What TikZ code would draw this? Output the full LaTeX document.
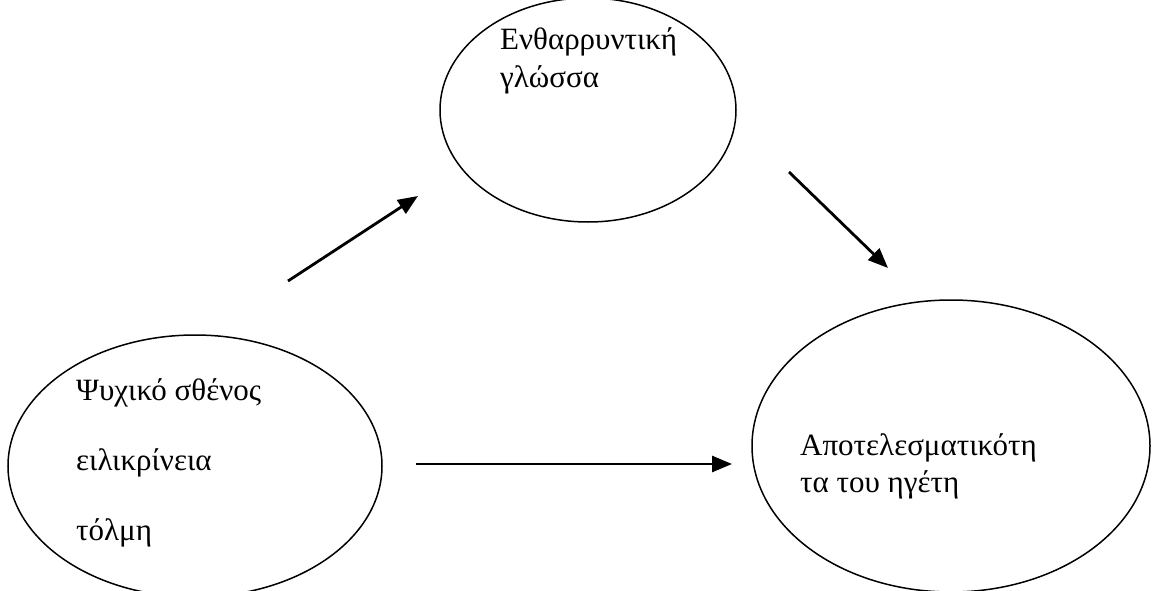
\documentclass[tikz,border=0pt]{standalone}
\usepackage{fontspec}
\setmainfont{Liberation Serif}
\usetikzlibrary{shapes.geometric,arrows.meta}
\tikzset{
  oval/.style={draw=black, line width=1.5pt, ellipse, inner sep=0pt},
  lbl/.style={anchor=base west, inner sep=0pt, font=\fontsize{31}{36}\selectfont},
  arr/.style={line width=2.8pt, -{Triangle[length=20pt,width=16pt]}}
}
\begin{document}
\begin{tikzpicture}[x=1pt,y=-1pt]
\useasboundingbox (0,0) rectangle (1152,591);
\clip (0,0) rectangle (1152,591);
\fill[white] (0,0) rectangle (1152,591);
% ellipses
\node[oval, minimum width=296pt, minimum height=224pt] (top) at (588,110) {};
\node[oval, minimum width=374pt, minimum height=262pt] (left) at (195,466) {};
\node[oval, minimum width=398pt, minimum height=292pt] (right) at (951,446) {};
% texts
\node[lbl] (t1) at (500,50) {Ενθαρρυντική};
\node[lbl] (t2) at (500,88) {γλώσσα};
\node[lbl] (l1) at (76,400) {Ψυχικό σθένος};
\node[lbl] (l2) at (76,470) {ειλικρίνεια};
\node[lbl] (l3) at (76,540) {τόλμη};
\node[lbl] (r1) at (800,455) {Αποτελεσματικότη};
\node[lbl] (r2) at (800,492) {τα του ηγέτη};
% arrow endpoints
\coordinate (a1s) at (288,281);
\coordinate (a1e) at (418,196);
\coordinate (a2s) at (789,172);
\coordinate (a2e) at (888,268);
\coordinate (a3s) at (416,464);
\coordinate (a3e) at (732,464);
\draw[arr] (a1s) -- (a1e);
\draw[arr] (a2s) -- (a2e);
\draw[arr] (a3s) -- (a3e);
\end{tikzpicture}
\end{document}
